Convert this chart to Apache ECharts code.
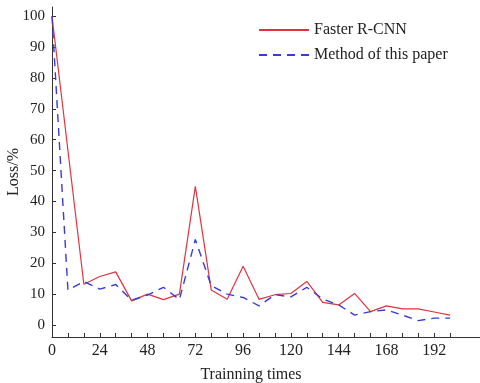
<!DOCTYPE html>
<html>
<head>
<meta charset="utf-8">
<script src="https://cdn.jsdelivr.net/npm/echarts@6/dist/echarts.min.js"></script>
<style>
  html, body { margin: 0; padding: 0; background: #fff; }
  #chart { width: 480px; height: 383px; }
</style>
</head>
<body>
<div id="chart"></div>
<script>
// training step (x) and loss (%)
const fasterX = [0, 16, 24, 32, 40, 48, 56, 64, 72, 80, 88, 96, 104, 112, 120, 128, 136, 144, 152, 160, 168, 176, 184, 192, 200];
const fasterY = [100, 13.2, 15.7, 17.2, 7.8, 10, 8.2, 10, 44.9, 11.3, 8.3, 19, 8.3, 9.8, 10.2, 14.1, 7.3, 6.5, 10.2, 4.3, 6.2, 5.2, 5.2, 4.2, 3.2];

const oursX = [0, 8, 16, 24, 32, 40, 48, 56, 64, 72, 80, 88, 96, 104, 112, 120, 128, 136, 144, 152, 160, 168, 176, 184, 192, 200];
const oursY = [100, 11.3, 14.1, 11.6, 13.1, 8, 9.7, 12.2, 8.2, 27.7, 12.7, 10, 8.9, 6.2, 9.8, 9.1, 12.2, 8.4, 6.5, 3.2, 4.3, 4.9, 3.2, 1.4, 2.2, 2.2];

const xLabels = [0, 24, 48, 72, 96, 120, 144, 168, 192];
const xTicks = [8, 16, 24, 32, 40, 48, 56, 64, 72, 80, 88, 96, 104, 112, 120, 128, 136, 144, 152, 160, 168, 176, 184, 192, 200];
const yTicks = [0, 10, 20, 30, 40, 50, 60, 70, 80, 90, 100];

const pairs = (xs, ys) => xs.map((x, i) => [x, ys[i]]);

const chart = echarts.init(document.getElementById('chart'));
const font = 'Liberation Serif';
const axisColor = '#333';

chart.setOption({
  animation: false,
  backgroundColor: '#fff',
  grid: { left: 52, right: 0, top: 7, bottom: 46, containLabel: false, outerBoundsMode: 'none' },
  legend: {
    orient: 'vertical',
    left: 253,
    top: 17,
    itemWidth: 50,
    itemHeight: 14,
    itemGap: 9,
    itemStyle: { opacity: 0 },
    textStyle: { fontFamily: font, fontSize: 16, color: '#222' },
    data: ['Faster R-CNN', 'Method of this paper'],
  },
  xAxis: {
    type: 'value',
    min: 0,
    max: 215,
    name: 'Trainning times',
    nameLocation: 'middle',
    nameGap: 30,
    nameMoveOverlap: false,
    nameTextStyle: { fontFamily: font, fontSize: 16, color: '#222', padding: [0, 30, 0, 0] },
    axisLine: { onZero: false, lineStyle: { color: axisColor, width: 1 } },
    axisTick: { inside: true, length: 4, customValues: xTicks, lineStyle: { color: axisColor } },
    axisLabel: { customValues: xLabels, margin: 6, fontFamily: font, fontSize: 16, color: '#222' },
    splitLine: { show: false },
  },
  yAxis: {
    type: 'value',
    min: -3.9,
    max: 103,
    name: 'Loss/%',
    nameLocation: 'middle',
    nameGap: 30,
    nameMoveOverlap: false,
    nameRotate: 90,
    nameTextStyle: { fontFamily: font, fontSize: 16, color: '#222' },
    axisLine: { show: true, lineStyle: { color: axisColor, width: 1 } },
    axisTick: { show: true, inside: true, length: 4, customValues: yTicks, lineStyle: { color: axisColor } },
    axisLabel: { customValues: yTicks, margin: 7, fontFamily: font, fontSize: 15, color: '#222' },
    splitLine: { show: false },
  },
  series: [
    {
      name: 'Faster R-CNN',
      type: 'line',
      data: pairs(fasterX, fasterY),
      symbol: 'none',
      lineStyle: { color: '#e03340', width: 1.2 },
      itemStyle: { color: '#e03340' },
    },
    {
      name: 'Method of this paper',
      type: 'line',
      data: pairs(oursX, oursY),
      symbol: 'none',
      lineStyle: { color: '#3a3ad8', width: 1.4, type: [8, 6] },
      itemStyle: { color: '#3a3ad8' },
    },
  ],
});
</script>
</body>
</html>
